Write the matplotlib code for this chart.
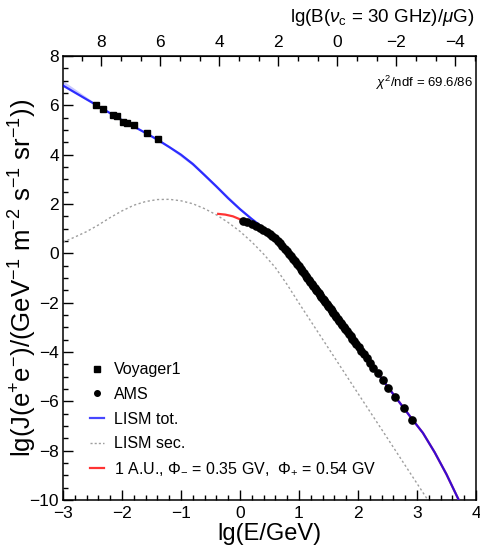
import matplotlib
matplotlib.use("Agg")
import matplotlib.pyplot as plt
from matplotlib.ticker import MultipleLocator, FixedLocator
from matplotlib.lines import Line2D

plt.rcParams['font.family'] = ['Liberation Sans', 'DejaVu Sans']
plt.rcParams['mathtext.fontset'] = 'custom'
plt.rcParams['mathtext.rm'] = 'Liberation Sans'
plt.rcParams['mathtext.it'] = 'Liberation Sans:italic'
plt.rcParams['mathtext.bf'] = 'Liberation Sans:bold'

# ---------------- data (lg E/GeV, lg J) ----------------
voyager_lgE = [-2.44, -2.327, -2.158, -2.08, -1.988, -1.92, -1.797, -1.58, -1.395]
voyager_lgJ = [6.01, 5.84, 5.61, 5.55, 5.32, 5.28, 5.19, 4.88, 4.63]

ams_lgE = [0.045, 0.125, 0.200, 0.268, 0.332, 0.393, 0.450, 0.502, 0.549, 0.593,
           0.636, 0.678, 0.719, 0.759, 0.797, 0.833, 0.869, 0.903, 0.935, 0.968,
           0.998, 1.028, 1.057, 1.086, 1.114, 1.141, 1.167, 1.193, 1.218, 1.243,
           1.267, 1.290, 1.313, 1.336, 1.358, 1.380, 1.402, 1.424, 1.446, 1.469,
           1.491, 1.514, 1.537, 1.560, 1.584, 1.607, 1.631, 1.656, 1.681, 1.706,
           1.732, 1.758, 1.786, 1.814, 1.843, 1.873, 1.905, 1.938, 1.973, 2.011,
           2.052, 2.096, 2.145, 2.199, 2.261, 2.335, 2.419, 2.515, 2.634, 2.772,
           2.923]
ams_lgJ = [1.330, 1.253, 1.180, 1.108, 1.040, 0.965, 0.878, 0.798, 0.718, 0.612,
           0.508, 0.407, 0.304, 0.190, 0.082, -0.020, -0.123, -0.229, -0.331, -0.435,
           -0.531, -0.626, -0.719, -0.812, -0.902, -0.989, -1.073, -1.157, -1.237, -1.318,
           -1.395, -1.470, -1.544, -1.619, -1.690, -1.761, -1.832, -1.904, -1.975, -2.050,
           -2.121, -2.195, -2.268, -2.342, -2.419, -2.492, -2.569, -2.649, -2.729, -2.809,
           -2.892, -2.976, -3.068, -3.160, -3.255, -3.353, -3.458, -3.567, -3.681, -3.806,
           -3.942, -4.087, -4.249, -4.427, -4.629, -4.871, -5.145, -5.457, -5.833, -6.269,
           -6.739]

lism_lgE = [-3.0, -2.8, -2.6, -2.44, -2.2, -2.0, -1.8, -1.6, -1.4, -1.2, -1.0,
            -0.8, -0.6, -0.4, -0.2, 0.0, 0.2, 0.4, 0.6, 0.7, 0.8, 0.9, 1.0,
            1.25, 1.5, 1.75, 2.0, 2.2, 2.5, 2.75, 2.92, 3.1, 3.3, 3.5, 3.7, 3.75]
lism_lgJ = [6.80, 6.52, 6.24, 6.02, 5.68, 5.40, 5.14, 4.88, 4.61, 4.31, 4.00,
            3.62, 3.17, 2.71, 2.23, 1.79, 1.39, 1.02, 0.65, 0.40, 0.10, -0.20, -0.52,
            -1.33, -2.14, -2.94, -3.76, -4.42, -5.40, -6.19, -6.73, -7.28, -8.07, -8.96, -9.96, -10.25]

band_lgE = [-3.0, -2.44, -2.0, -1.6, -1.2, -0.8, -0.4, 0.0, 0.2, 0.4, 0.6, 0.8]
band_lo = [6.78, 5.99, 5.37, 4.85, 4.27, 3.56, 2.65, 1.74, 1.35, 0.99, 0.63, 0.09]
band_hi = [7.00, 6.07, 5.44, 4.92, 4.37, 3.70, 2.78, 1.86, 1.45, 1.07, 0.70, 0.12]

sec_lgE = [-3.0, -2.8, -2.6, -2.4, -2.2, -2.0, -1.8, -1.6, -1.4, -1.2, -1.0,
           -0.8, -0.6, -0.4, -0.2, 0.0, 0.2, 0.4, 0.6, 0.8, 1.0,
           1.5, 2.0, 2.5, 3.0, 3.2]
sec_lgJ = [0.45, 0.66, 0.88, 1.15, 1.45, 1.72, 1.95, 2.10, 2.18, 2.19, 2.13,
           2.01, 1.81, 1.56, 1.25, 0.89, 0.46, -0.03, -0.58, -1.27, -2.02,
           -3.85, -5.68, -7.50, -9.33, -10.06]

au_lgE = [-0.37, -0.25, -0.12, 0.0, 0.045, 0.2, 0.37, 0.54, 0.71, 0.875, 1.045, 1.25,
          1.5, 1.75, 2.0, 2.2, 2.5, 2.75, 2.92, 3.1, 3.3, 3.5, 3.7, 3.75]
au_lgJ = [1.60, 1.57, 1.50, 1.38, 1.34, 1.18, 1.00, 0.74, 0.33, -0.13, -0.67, -1.33,
          -2.14, -2.94, -3.76, -4.42, -5.40, -6.19, -6.73, -7.28, -8.07, -8.96, -9.96, -10.25]

top_ticks = [8, 6, 4, 2, 0, -2, -4]
chi2_text = r'$\chi^{2}$/ndf = 69.6/86'
B_offset = 3.3   # lg B = B_offset - 2 lg E  (nu_c = 30 GHz)

# ---------------- figure ----------------
W, H = 481, 558
fig = plt.figure(figsize=(W / 100, H / 100), dpi=100)
ax = fig.add_axes([63 / W, 1 - 500 / H, (476 - 63) / W, (500 - 56) / H])

blue = (0.0, 0.0, 1.0)
red = (1.0, 0.2, 0.2)

ax.fill_between(band_lgE, band_lo, band_hi, color=(0.78, 0.78, 1.0), lw=0, zorder=1)
ax.plot(sec_lgE, sec_lgJ, color='0.62', lw=1.0, ls=(0, (1.6, 1.8)), zorder=2)
ax.plot(au_lgE, au_lgJ, color=red, lw=1.6, zorder=3)
ax.plot(lism_lgE, lism_lgJ, color=blue, lw=1.6, alpha=0.78, zorder=4)
ax.plot(voyager_lgE, voyager_lgJ, ls='none', marker='s', ms=5, color='black', zorder=5)
ax.plot(ams_lgE, ams_lgJ, ls='none', marker='o', ms=5.2, color='black', zorder=6)

ax.set_xlim(-3, 4)
ax.set_ylim(-10, 8)
ax.xaxis.set_major_locator(MultipleLocator(1))
ax.xaxis.set_minor_locator(MultipleLocator(0.2))
ax.yaxis.set_major_locator(MultipleLocator(2))
ax.yaxis.set_minor_locator(MultipleLocator(0.5))
ax.tick_params(which='both', direction='in', top=False, right=False, width=1.0, labelsize=12.5)
ax.tick_params(which='major', length=7.5)
ax.tick_params(which='minor', length=3.8)
ax.tick_params(axis='x', pad=4)
ax.tick_params(axis='y', pad=3)
for s in ax.spines.values():
    s.set_linewidth(1.1)

ax.set_xlabel('lg(E/GeV)', fontsize=17, labelpad=2)
ax.set_ylabel(r'lg(J(e$^{+}$e$^{-}$)/(GeV$^{-1}$ m$^{-2}$ s$^{-1}$ sr$^{-1}$))', fontsize=18.5)
ax.yaxis.set_label_coords(-0.058, 0.5)

sec = ax.secondary_xaxis('top', functions=(lambda x: B_offset - 2 * x, lambda b: (B_offset - b) / 2))
sec.xaxis.set_major_locator(FixedLocator(top_ticks))
sec.xaxis.set_minor_locator(MultipleLocator(2 / 3))
sec.tick_params(which='both', direction='in', width=1.0, labelsize=12.5, pad=4)
sec.tick_params(which='major', length=7.5)
sec.tick_params(which='minor', length=3.8)
fig.text(474 / W, 1 - 17 / H, r'lg(B($\nu_{\rm c}$ = 30 GHz)/$\mu$G)', fontsize=13.5,
         ha='right', va='center')

ax.text(0.993, 0.939, chi2_text, transform=ax.transAxes, ha='right', va='center', fontsize=9.5)

handles = [
    Line2D([], [], ls='none', marker='s', ms=4, color='black'),
    Line2D([], [], ls='none', marker='o', ms=4, color='black'),
    Line2D([], [], color=blue, lw=1.6, alpha=0.72),
    Line2D([], [], color='0.62', lw=1.0, ls=(0, (1.5, 1.5))),
    Line2D([], [], color=red, lw=1.6),
]
labels = ['Voyager1', 'AMS', 'LISM tot.', 'LISM sec.',
          r'1 A.U., $\Phi_{-}$ = 0.35 GV,  $\Phi_{+}$ = 0.54 GV']
ax.legend(handles, labels, loc='upper left', bbox_to_anchor=(0.065, 0.31), frameon=False,
          fontsize=11.5, handlelength=0.9, handletextpad=0.6, labelspacing=0.6, borderpad=0,
          borderaxespad=0)

fig.savefig('out.png', dpi=100)
